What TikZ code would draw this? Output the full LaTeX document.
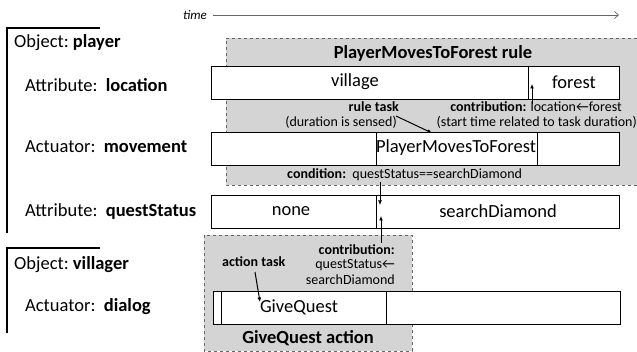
\documentclass[tikz,border=0pt]{standalone}
\usepackage{fontspec}
\setmainfont{Carlito}
\newfontfamily\arrowfont{DejaVu Sans}
\usetikzlibrary{arrows.meta}
\begin{document}
\begin{tikzpicture}[x=1pt,y=-1pt,
  cell/.style={draw, line width=0.9pt, fill=white, minimum height=33pt, inner sep=0, anchor=north west},
  zoneedge/.style={draw=black!60, dashed, line width=0.7pt},
  lbl/.style={font=\fontsize{18.5}{21}\selectfont, anchor=west, inner sep=0},
  val/.style={font=\fontsize{18.5}{21}\selectfont, inner sep=0},
  small/.style={font=\fontsize{14}{16}\selectfont, inner sep=0},
  ttl/.style={font=\bfseries\fontsize{18.5}{21}\selectfont, inner sep=0},
  arr/.style={-{Latex[length=4.5pt,width=4pt]}, line width=1pt},
  brk/.style={line width=1.3pt}]
\useasboundingbox (0,0) rectangle (637,352);
% time axis
\node[font=\itshape\fontsize{13}{15}\selectfont, inner sep=0] (time) at (195,15) {time};
\coordinate (timeend) at (619,15);
\draw[black!60, line width=0.7pt, -{Straight Barb[length=4pt,width=7pt]}, shorten <=6pt] (time.east) -- (timeend);
% brackets
\draw[brk] (100,28) -- (7,28) -- (7,233);
\draw[brk] (100,248) -- (7,248) -- (7,333);
% labels
\node[lbl] (objp) at (14,43) {Object:\ \textbf{player}};
\node[lbl] (attl) at (25,85) {Attribute:\ \ \textbf{location}};
\node[lbl] (actm) at (25,147) {Actuator:\ \ \textbf{movement}};
\node[lbl] (attq) at (25,212) {Attribute:\ \ \textbf{questStatus}};
\node[lbl] (objv) at (14,265) {Object:\ \textbf{villager}};
\node[lbl] (actd) at (25,307) {Actuator:\ \ \textbf{dialog}};
% rule zone
\fill[black!17] (226,38) rectangle (637,185);
\draw[zoneedge] (637,38) -- (226,38) -- (226,185) -- (637,185);
% action zone
\fill[black!17] (204,235) rectangle (412,351);
\draw[zoneedge] (204,235) rectangle (412,351);
% titles
\node[ttl] (ruletitle) at (433,53) {PlayerMovesToForest rule};
\node[ttl] (acttitle) at (308,338) {GiveQuest action};
% location row
\node[cell, minimum width=317pt] (loc1) at (211,66) {};
\node[cell, minimum width=91pt] (loc2) at (528,66) {};
\node[val] at (355,82) {village};
\node[val] at (574,82) {forest};
% movement row
\node[cell, minimum width=165pt] (mov1) at (211,132) {};
\node[cell, minimum width=161pt] (mov2) at (376,132) {};
\node[cell, minimum width=82pt] (mov3) at (537,132) {};
\node[val] at (456,148) {PlayerMovesToForest};
% questStatus row
\node[cell, minimum width=165pt] (qs1) at (211,195) {};
\node[cell, minimum width=243pt] (qs2) at (376,195) {};
\node[val] at (291,211) {none};
\node[val] at (498,211) {searchDiamond};
% dialog row
\node[cell, minimum width=8pt] (dg1) at (213,291) {};
\node[cell, minimum width=165pt] (dg2) at (221,291) {};
\node[cell, minimum width=234pt] (dg3) at (386,291) {};
\node[val] at (299,307) {GiveQuest};
% annotations
\node[small, anchor=east] (ruletask) at (399,107) {\bfseries rule task};
\node[small, anchor=east] (dursensed) at (397,122) {(duration is sensed)};
\node[small, anchor=east] (contrib1) at (622,107) {\textbf{contribution:} location←forest};
\node[small, anchor=east] (starttime) at (637,122) {(start time related to task duration)};
\node[small, anchor=west] (cond) at (287,175) {\textbf{condition:}\ \ questStatus==searchDiamond};
\node[small, anchor=east] (contrib2) at (395,250) {\bfseries contribution:};
\node[small, anchor=east] (contrib2b) at (395,265) {questStatus←};
\node[small, anchor=east] (contrib2c) at (395,280) {searchDiamond};
\node[small, anchor=west] (acttask) at (222,262) {\bfseries action task};
% arrows
\coordinate (rtA) at (396,116);
\coordinate (rtB) at (432,133);
\draw[arr] (rtA) -- (rtB);
\coordinate (c1A) at (532,104);
\coordinate (c1B) at (532,84);
\draw[arr] (c1A) -- (c1B);
\coordinate (cdA) at (380,182);
\coordinate (cdB) at (380,205);
\draw[arr] (cdA) -- (cdB);
\coordinate (c2A) at (381,243);
\coordinate (c2B) at (381,216);
\draw[arr] (c2A) -- (c2B);
\coordinate (atA) at (255,272);
\coordinate (atB) at (260,302);
\draw[arr] (atA) -- (atB);
\end{tikzpicture}
\end{document}
